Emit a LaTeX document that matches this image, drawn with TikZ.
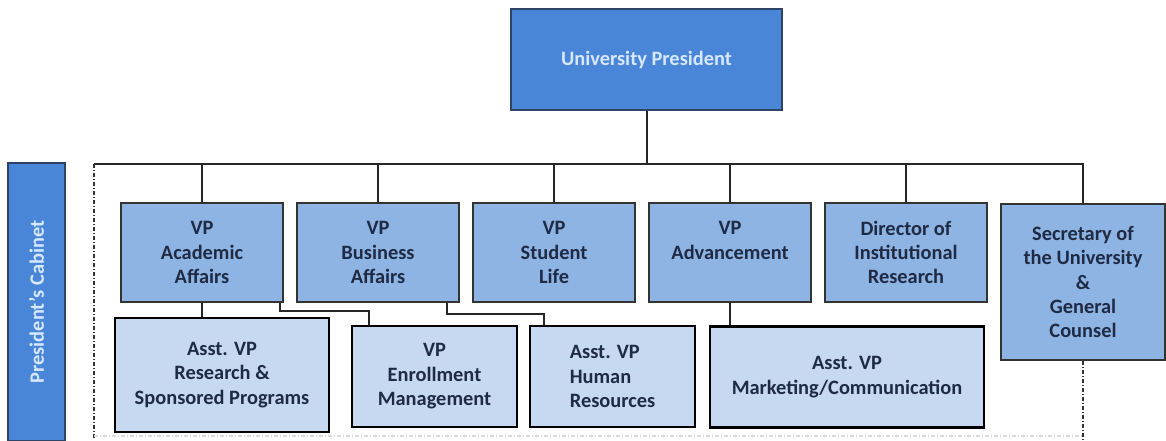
\documentclass[tikz,border=0pt]{standalone}
\usepackage{fontspec}
\setmainfont{Carlito}
\usetikzlibrary{positioning}

\definecolor{presblue}{HTML}{4A86D8}
\definecolor{vpblue}{HTML}{8EB4E3}
\definecolor{asstblue}{HTML}{C6D9F1}
\definecolor{paletext}{HTML}{D6E8FF}
\definecolor{navytext}{HTML}{1F2A44}
\definecolor{edgeblue}{HTML}{2E4466}

\tikzset{
	every node/.style={font=\bfseries\fontsize{10.2}{12.2}\selectfont, align=center, inner sep=0pt},
	topbox/.style={draw=edgeblue, line width=0.6pt, fill=presblue, text=paletext},
	vpbox/.style={draw=black!80, line width=0.8pt, fill=vpblue, text=navytext, minimum width=81pt, minimum height=49.5pt},
	asstbox/.style={draw=black, line width=1.2pt, fill=asstblue, text=navytext, minimum height=50.5pt},
	link/.style={draw=black!85, line width=1pt},
	cabframe/.style={draw=black!80, line width=0.6pt, dash pattern=on 2pt off 1pt on 0.5pt off 1pt},
}

\begin{document}
\begin{tikzpicture}[x=0.5pt, y=-0.5pt]
	\useasboundingbox (0,0) rectangle (1166,440);
	% top and cabinet
	\node[topbox, minimum width=135.5pt, minimum height=50.5pt] (pres) at (646.5,59.5) {University President};
	\node[topbox, rotate=90, minimum width=139pt, minimum height=28.5pt] (cab) at (36.5,302) {President’s Cabinet};
	\coordinate (busL) at (94,164);
	\coordinate (busR) at (1083,164);
	\coordinate (frameB) at (94,440);
	\draw[link] (pres.south) -- (pres.south |- busL);
	% first row
	\foreach \cx/\nm/\txt in {202/acad/{VP\\Academic\\Affairs}, 378/busi/{VP\\Business\\Affairs}, 554/stud/{VP\\Student\\Life}, 730/adv/{VP\\Advancement\\~}, 906/dir/{Director of\\Institutional\\Research}}{
		\node[vpbox] (\nm) at (\cx,252.5) {\txt};
		\draw[link] (\nm.north) -- (\nm.north |- busL);
	};
	\node[vpbox, minimum width=82pt, minimum height=78pt] (sec) at (1083,282) {Secretary of\\the University\\\&\\General\\Counsel};
	\draw[link] (busL) -- (busR) -- (sec.north);
	% second row
	\node[asstbox, minimum width=107pt, minimum height=57pt] (res) at (222,375) {Asst. VP\\Research \&\\Sponsored Programs};
	\node[asstbox, minimum width=82.5pt] (enr) at (434.5,376.5) {VP\\Enrollment\\Management};
	\node[asstbox, minimum width=82.5pt, align=left] (hr) at (612.5,376.5) {Asst. VP\\Human\\Resources};
	\node[asstbox, minimum width=137pt] (mkt) at (847,377) {Asst. VP\\Marketing/Communication};
	\draw[link] (acad.south) -- (acad.south |- res.north);
	\draw[link] ([xshift=-2pt]acad.south east) -- ++(0,8) -| ([xshift=9pt]enr.north west);
	\draw[link] ([xshift=-6.5pt]busi.south east) -- ++(0,11) -| ([xshift=7.5pt]hr.north west);
	\draw[link] (adv.south) -- (adv.south |- mkt.north);
	% cabinet frame
	\draw[cabframe] (busL) -- (frameB);
	\draw[cabframe] (sec.south) -- (sec.south |- frameB);
	\draw[cabframe, draw=black!15] ([yshift=2pt]frameB) -- ([yshift=2pt]sec.south |- frameB);
\end{tikzpicture}
\end{document}
